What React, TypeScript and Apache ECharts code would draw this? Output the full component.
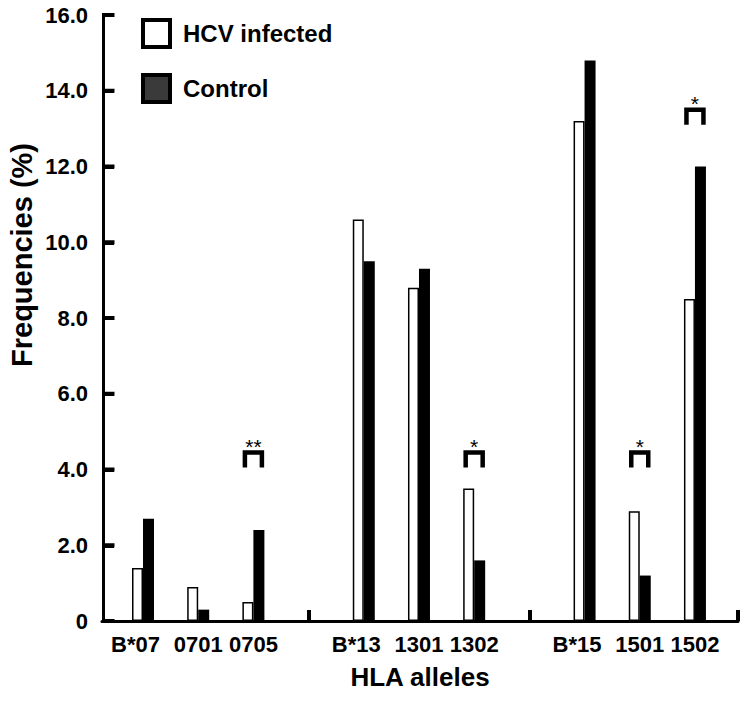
import React, { useEffect, useRef } from "react";
import * as echarts from "echarts";

const categories = ["B*07", "0701", "0705", "", "B*13", "1301", "1302", "", "B*15", "1501", "1502"];
const hcvInfected = [1.4, 0.9, 0.5, null, 10.6, 8.8, 3.5, null, 13.2, 2.9, 8.5];
const control = [2.7, 0.3, 2.4, null, 9.5, 9.3, 1.6, null, 14.8, 1.2, 12.0];
// significance markers: [category index, bracket bottom, bracket top, label]
const sigIndex = [2, 6, 9, 10];
const sigBottom = [4.05, 4.05, 4.05, 13.1];
const sigTop = [4.45, 4.45, 4.45, 13.5];
const sigLabel = ["**", "*", "*", "*"];
const groupTicks = [3, 7, 10.78]; // in category-index units
const yTicks = [0, 2, 4, 6, 8, 10, 12, 14, 16];

const FONT = "'Liberation Sans', Arial, Helvetica, sans-serif";
const X0 = 0.743; // axis starts this far left of the first category centre
const XMAX = 10.78;

export default function App() {
  const ref = useRef<HTMLDivElement>(null);
  useEffect(() => {
    document.body.style.margin = "0";
    const chart = echarts.init(ref.current!, null, { renderer: "svg" });
    const toData = (arr: (number | null)[]) =>
      arr.map((v, i) => (v === null ? null : [i + X0, v])).filter((d) => d !== null);
    const labelValues = categories.map((c, i) => (c ? i + X0 : -1)).filter((i) => i >= 0);
    const labelFont = { fontSize: 22, fontWeight: "bold", color: "#000", fontFamily: FONT };
    chart.setOption({
      animation: false,
      backgroundColor: "#fff",
      textStyle: { fontFamily: FONT },
      grid: { left: 102, right: 13, top: 15, bottom: 81, containLabel: false, outerBoundsMode: "none" },
      legend: {
        orient: "vertical",
        left: 141,
        top: 18,
        padding: 0,
        itemWidth: 27,
        itemHeight: 27,
        itemGap: 24,
        icon: "rect",
        textStyle: {
          fontSize: 24,
          lineHeight: 27,
          fontWeight: "bold",
          color: "#000",
          fontFamily: FONT,
          padding: [0, 0, 0, 8],
        },
        data: [
          { name: "HCV infected", itemStyle: { color: "#fff", borderColor: "#000", borderWidth: 4 } },
          { name: "Control", itemStyle: { color: "#3a3a3a", borderColor: "#000", borderWidth: 4 } },
        ],
      },
      xAxis: {
        type: "value",
        position: "bottom",
        min: 0,
        max: XMAX + X0,
        name: "HLA alleles",
        nameLocation: "middle",
        nameGap: 43,
        nameTextStyle: { fontSize: 26, fontWeight: "bold", color: "#000", fontFamily: FONT },
        axisLine: { show: true, onZero: false, lineStyle: { color: "#000", width: 3 } },
        axisTick: {
          show: true,
          inside: true,
          length: 11,
          customValues: groupTicks.map((t) => t + X0),
          lineStyle: { color: "#000", width: 4 },
        },
        axisLabel: {
          customValues: labelValues,
          formatter: (v: number) => {
            const c = categories[Math.round(v - X0)] || "";
            return c.startsWith("B*") ? `{g|${c}}` : c;
          },
          ...labelFont,
          margin: 12,
          rich: { g: { ...labelFont, padding: [0, 15, 0, 0] } },
        },
        splitLine: { show: false },
      },
      yAxis: {
        type: "value",
        position: "left",
        offset: -1,
        min: 0,
        max: 16,
        interval: 2,
        axisLine: { show: true, onZero: false, lineStyle: { color: "#000", width: 3 } },
        axisTick: { show: true, inside: true, length: 11, lineStyle: { color: "#000", width: 4 } },
        axisLabel: {
          formatter: (v: number) => (v === 0 ? "0" : v.toFixed(1)),
          ...labelFont,
          margin: 15,
        },
        splitLine: { show: false },
      },
      graphic: [
        {
          type: "text",
          x: 22,
          y: 255,
          rotation: Math.PI / 2,
          style: {
            text: "Frequencies (%)",
            fontSize: 29,
            fontWeight: "bold",
            fill: "#000",
            fontFamily: FONT,
            textAlign: "center",
            textVerticalAlign: "middle",
          },
        },
      ],
      series: [
        {
          name: "HCV infected",
          type: "bar",
          barWidth: 11,
          barGap: "0%",
          data: toData(hcvInfected),
          itemStyle: { color: "#fff", borderColor: "#000", borderWidth: 1.5 },
        },
        {
          name: "Control",
          type: "bar",
          barWidth: 11,
          barGap: "0%",
          data: toData(control),
          itemStyle: { color: "#000" },
        },
        {
          name: "sig",
          type: "custom",
          silent: true,
          clip: false,
          z: 10,
          data: sigIndex.map((x, i) => [x + X0, sigBottom[i], sigTop[i], i]),
          renderItem: (params: any, api: any) => {
            const x = api.value(0);
            const pb = api.coord([x, api.value(1)]);
            const pt = api.coord([x, api.value(2)]);
            const hw = 8.5;
            const label = sigLabel[api.value(3)];
            const children: any[] = [
              {
                type: "polyline",
                shape: {
                  points: [
                    [pb[0] - hw, pb[1]],
                    [pb[0] - hw, pt[1]],
                    [pb[0] + hw, pt[1]],
                    [pb[0] + hw, pb[1]],
                  ],
                },
                style: { stroke: "#000", lineWidth: 4.5, fill: null },
              },
              {
                type: "text",
                x: pt[0],
                y: pt[1] - 6,
                style: {
                  text: label,
                  fontSize: 21,
                  fill: "#000",
                  fontFamily: FONT,
                  textAlign: "center",
                  textVerticalAlign: "middle",
                },
              },
            ];
            if (params.dataIndex === 0) {
              // left value axis: line and inward ticks, placed by the axis scales
              const a = api.coord([0, yTicks[0]]);
              const b = api.coord([0, yTicks[yTicks.length - 1]]);
              const ax = a[0] + 1.5;
              children.push({
                type: "line",
                shape: { x1: ax, y1: a[1] + 1.5, x2: ax, y2: b[1] - 2 },
                style: { stroke: "#000", lineWidth: 3 },
              });
              yTicks.forEach((v) => {
                const p = api.coord([0, v]);
                children.push({
                  type: "line",
                  shape: { x1: ax, y1: p[1], x2: ax + 11, y2: p[1] },
                  style: { stroke: "#000", lineWidth: 4 },
                });
              });
            }
            return { type: "group", children };
          },
        },
      ],
    });
    return () => chart.dispose();
  }, []);
  return <div ref={ref} style={{ width: 751, height: 702 }} />;
}
